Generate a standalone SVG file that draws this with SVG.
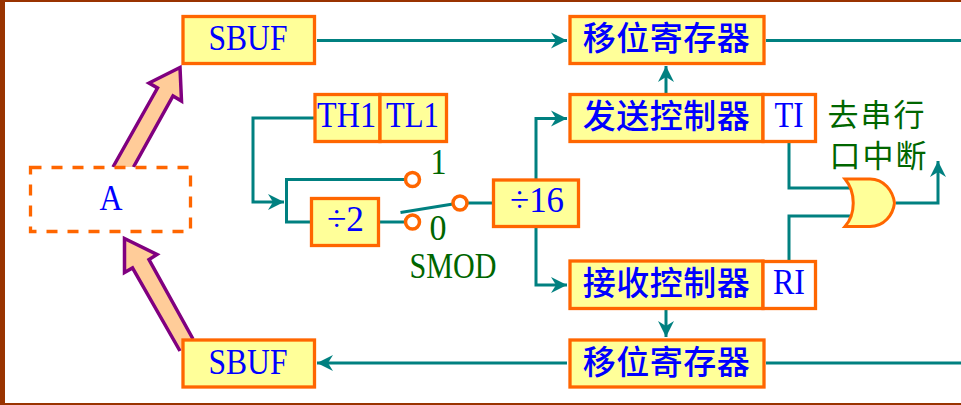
<svg xmlns="http://www.w3.org/2000/svg" width="961" height="405" viewBox="0 0 961 405">
<style>
.box{fill:#FFFF99;stroke:#FF6600;stroke-width:3.300}
.white{fill:#FFFFFF;stroke:#FF6600;stroke-width:3.300}
.dash{fill:#FFFFFF;stroke:#FF6600;stroke-width:3.300;stroke-dasharray:11 10}
.fat{fill:#FFCC99;stroke:#800080;stroke-width:3.500;stroke-linejoin:miter}
.w{fill:none;stroke:#008080;stroke-width:3}
.pin{fill:#FFFFFF;stroke:#FF6600;stroke-width:3.500}
.t{font-family:"Liberation Serif",serif;font-size:36px;fill:#0000FF;text-anchor:middle}
.c{font-family:"Noto Sans CJK SC","Liberation Serif",sans-serif;font-size:33px;fill:#0000FF;text-anchor:middle;letter-spacing:0.500px;font-weight:500}
.g{font-family:"Liberation Serif",serif;font-size:35px;fill:#006600;text-anchor:middle}
.gc{font-family:"Noto Sans CJK SC",sans-serif;font-size:31px;fill:#006600;text-anchor:middle;letter-spacing:2px}
</style>
<defs>
<marker id="ah" markerUnits="userSpaceOnUse" markerWidth="18" markerHeight="18" refX="16" refY="9" orient="auto">
<path d="M0 1 L16 9 L0 17 L5 9 Z" fill="#008080"/>
</marker>
</defs>
<rect width="961" height="405" fill="#FFFFFF"/>
<g id="frame" fill="#993300"><rect x="0" y="0" width="5" height="405"/><rect x="0" y="0" width="961" height="2"/><rect x="0" y="403" width="961" height="2"/></g>
<g id="connectors">
<path class="w" d="M317 40.500H567" marker-end="url(#ah)"/>
<path class="w" d="M766 40.500H961"/>
<path class="w" d="M666 93V66" marker-end="url(#ah)"/>
<path class="w" d="M314 118H253V202H284" marker-end="url(#ah)"/>
<path class="w" d="M405 179.500H286.500V222H310"/>
<path class="w" d="M380 222H405"/>
<path class="w" d="M400.500 212.500L453 204"/>
<path class="w" d="M467 203H492"/>
<path class="w" d="M536 179V118.500H567" marker-end="url(#ah)"/>
<path class="w" d="M536 228V285H567" marker-end="url(#ah)"/>
<path class="w" d="M666 310V337" marker-end="url(#ah)"/>
<path class="w" d="M567 363H317" marker-end="url(#ah)"/>
<path class="w" d="M766 363H961"/>
<path class="w" d="M789 143V188H850"/>
<path class="w" d="M789 260V216H850"/>
<path class="w" d="M896 203H938V161" marker-end="url(#ah)"/>
</g>
<g id="arrow-up"><path class="fat" d="M113 167L157.500 88L149 83L180 67.500L181.500 101L173 96L133.500 167"/></g>
<g id="arrow-down"><path class="fat" d="M193 339L149 259.500L157 254.500L124.500 238.500L124.500 272.500L132.500 268L180 351"/></g>
<g id="node-a"><rect class="dash" x="30.500" y="167.500" width="160" height="64"/><text class="t" x="111" y="209.500" textLength="23" lengthAdjust="spacingAndGlyphs">A</text></g>
<g id="node-sbuf-top"><rect class="box" x="183" y="16.500" width="131.500" height="47"/><text class="t" x="248" y="50" textLength="79" lengthAdjust="spacingAndGlyphs">SBUF</text></g>
<g id="node-sbuf-bottom"><rect class="box" x="183" y="340" width="131.500" height="47"/><text class="t" x="248" y="373.500" textLength="79" lengthAdjust="spacingAndGlyphs">SBUF</text></g>
<g id="node-shift-top"><rect class="box" x="570" y="16.500" width="194" height="47"/><text class="c" x="666.500" y="50">移位寄存器</text></g>
<g id="node-shift-bottom"><rect class="box" x="570" y="340" width="194" height="47"/><text class="c" x="666.500" y="373.500">移位寄存器</text></g>
<g id="node-tx"><rect class="box" x="570" y="94.500" width="193" height="47"/><text class="c" x="666.500" y="128">发送控制器</text></g>
<g id="node-ti"><rect class="white" x="763" y="94.500" width="52.500" height="47"/><text class="t" x="789" y="127" textLength="29" lengthAdjust="spacingAndGlyphs">TI</text></g>
<g id="node-rx"><rect class="box" x="570" y="261" width="193" height="47.500"/><text class="c" x="666.500" y="295">接收控制器</text></g>
<g id="node-ri"><rect class="white" x="763" y="261.500" width="52.500" height="47"/><text class="t" x="789" y="293.500" textLength="32" lengthAdjust="spacingAndGlyphs">RI</text></g>
<g id="node-th1"><rect class="box" x="315" y="94.500" width="65" height="47"/><text class="t" x="346.500" y="127" textLength="59" lengthAdjust="spacingAndGlyphs">TH1</text></g>
<g id="node-tl1"><rect class="box" x="380" y="94.500" width="66.500" height="47"/><text class="t" x="412.500" y="127" textLength="53" lengthAdjust="spacingAndGlyphs">TL1</text></g>
<g id="node-div2"><rect class="box" x="311.500" y="198.500" width="67" height="47"/><text class="t" x="345.500" y="231" textLength="37" lengthAdjust="spacingAndGlyphs">÷2</text></g>
<g id="node-div16"><rect class="box" x="493.500" y="180" width="85" height="46.500"/><text class="t" x="537" y="212" textLength="54" lengthAdjust="spacingAndGlyphs">÷16</text></g>
<g id="switch"><circle class="pin" cx="412.500" cy="179.500" r="7"/><circle class="pin" cx="412.500" cy="222" r="7"/><circle class="pin" cx="460" cy="203" r="7"/>
<text class="g" x="438.500" y="174" textLength="16" lengthAdjust="spacingAndGlyphs">1</text><text class="g" x="438" y="240" textLength="17" lengthAdjust="spacingAndGlyphs">0</text><text class="g" x="453" y="278" textLength="87" lengthAdjust="spacingAndGlyphs" style="font-size:36px">SMOD</text></g>
<g id="or-gate"><path d="M845 179H870C884 179 893 191 894.500 203C893 215 884 226.500 870 226.500H845C856 214 856 192 845 179Z" fill="#FFFF99" stroke="#FF6600" stroke-width="3"/></g>
<g id="int-label"><text class="gc" x="877" y="126">去串行</text><text class="gc" x="879" y="167">口中断</text></g>
</svg>
